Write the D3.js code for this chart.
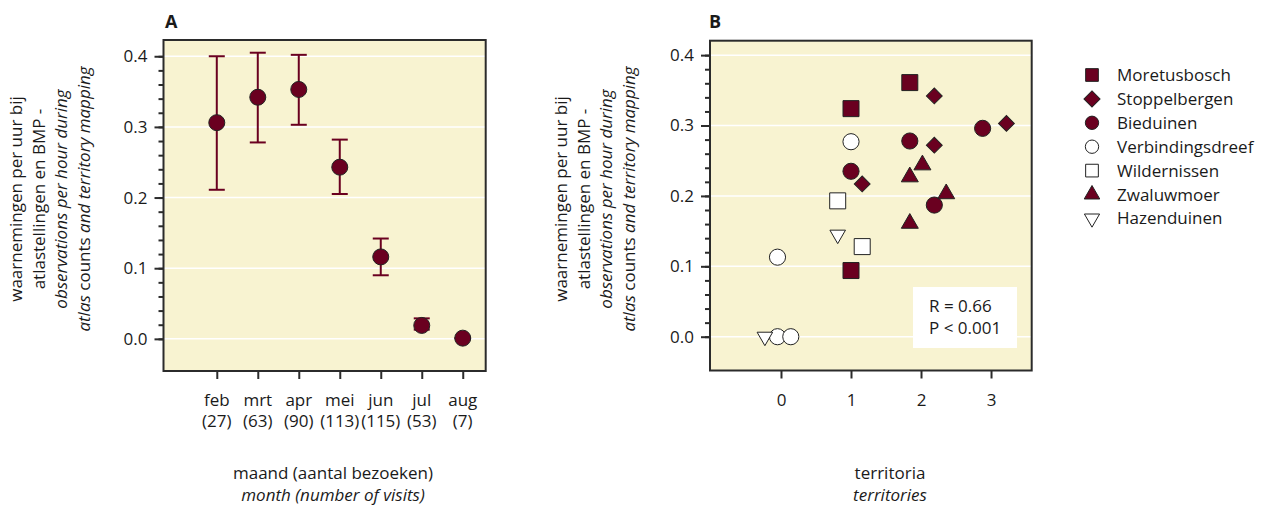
<!DOCTYPE html>
<html>
<head>
<meta charset="utf-8">
<script src="https://cdn.jsdelivr.net/npm/d3@7"></script>
<style>
    body { margin: 0; background: #fff; }
    text { font-family: "Open Sans", sans-serif; font-size: 17px; fill: #1a1a1a; }
    .panel-letter { font-weight: bold; font-size: 18px; }
    .bg { fill: #f8f3d1; }
    .frame { fill: none; stroke: #2b2b2b; stroke-width: 2; }
    .grid line { stroke: #fff; stroke-width: 1.5; }
    .tick line { stroke: #2b2b2b; stroke-width: 2; }
</style>
</head>
<body>
<div id="chart"></div>
<script>
// panel A: month means with error bars
var MONTHS = ['feb', 'mrt', 'apr', 'mei', 'jun', 'jul', 'aug'];
var MONTH_NUM = [2, 3, 4, 5, 6, 7, 8];
var VISITS = [27, 63, 90, 113, 115, 53, 7];
var MONTH_MEAN = [0.306, 0.342, 0.353, 0.243, 0.116, 0.019, 0.001];
var MONTH_LOW = [0.211, 0.278, 0.303, 0.205, 0.090, 0.013, 0.001];
var MONTH_HIGH = [0.400, 0.405, 0.402, 0.282, 0.142, 0.029, 0.001];

// panel B: observations per hour against territories, per site
var SITES = ['Moretusbosch', 'Stoppelbergen', 'Bieduinen', 'Verbindingsdreef', 'Wildernissen', 'Zwaluwmoer', 'Hazenduinen'];
var TERR = [
    [1.0, 1.84, 1.0],
    [2.19, 2.19, 1.16, 3.22],
    [1.0, 1.84, 2.19, 2.88],
    [1.0, -0.05, -0.05, 0.14],
    [0.81, 1.16],
    [1.84, 2.02, 2.36, 1.84],
    [0.81, -0.23]
];
var OBS = [
    [0.324, 0.361, 0.094],
    [0.342, 0.272, 0.217, 0.303],
    [0.235, 0.278, 0.187, 0.296],
    [0.277, 0.113, 0.0, 0.0],
    [0.193, 0.128],
    [0.227, 0.244, 0.203, 0.161],
    [0.145, 0.0]
];
var Y_TICKS = [0.0, 0.1, 0.2, 0.3, 0.4];
var X_TICKS_B = [0, 1, 2, 3];
var STATS = ['R = 0.66', 'P < 0.001'];

var W = 1266, H = 505,
    maroon = '#6a0020';

// marker per site: symbol, filled?, rotation, size in plot, size in legend
var MARKERS = [
    { type: d3.symbolSquare, fill: true, rot: 0, size: 256, leg: 161 },
    { type: d3.symbolSquare, fill: true, rot: 45, size: 125, leg: 130 },
    { type: d3.symbolCircle, fill: true, rot: 0, size: 205, leg: 140 },
    { type: d3.symbolCircle, fill: false, rot: 0, size: 205, leg: 140 },
    { type: d3.symbolSquare, fill: false, rot: 0, size: 256, leg: 161 },
    { type: d3.symbolTriangle, fill: true, rot: 0, size: 125, leg: 105 },
    { type: d3.symbolTriangle, fill: false, rot: 180, size: 105, leg: 100 }
];

var svg = d3.select('#chart').append('svg')
    .attr('width', W)
    .attr('height', H);

var ytitle = [
    [{ t: 'waarnemingen per uur bij', i: false }],
    [{ t: 'atlastellingen en BMP -', i: false }],
    [{ t: 'observations per hour during', i: true }],
    [{ t: 'atlas ', i: true }, { t: 'counts ', i: false }, { t: 'and territory mapping', i: true }]
];

function drawFrame(g, x0, x1, y, yTicks) {
    g.append('rect')
        .attr('class', 'bg')
        .attr('x', x0)
        .attr('y', y.range()[1])
        .attr('width', x1 - x0)
        .attr('height', y.range()[0] - y.range()[1]);

    g.append('g')
        .attr('class', 'grid')
        .selectAll('line')
        .data(yTicks)
        .enter()
        .append('line')
        .attr('x1', x0)
        .attr('x2', x1)
        .attr('y1', function(d) { return y(d); })
        .attr('y2', function(d) { return y(d); });

    // minor ticks every 0.02
    g.append('g')
        .attr('transform', 'translate(' + x0 + ',0)')
        .call(d3.axisLeft(y).tickValues(d3.range(0, 0.42, 0.02)).tickSize(5).tickFormat(''))
        .call(function(a) { a.select('.domain').remove(); });

    g.append('g')
        .attr('transform', 'translate(' + x0 + ',0)')
        .call(d3.axisLeft(y).tickValues(yTicks).tickSize(9).tickPadding(7).tickFormat(d3.format('.1f')))
        .call(function(a) {
            a.select('.domain').remove();
            a.selectAll('text').style('font-size', '17px').attr('fill', '#1a1a1a');
        });
}

function drawYTitle(g, cx, cy) {
    var t = g.append('text')
        .attr('transform', 'translate(' + cx + ',' + cy + ') rotate(-90)')
        .attr('text-anchor', 'middle');
    ytitle.forEach(function(line, li) {
        line.forEach(function(part, pi) {
            var ts = t.append('tspan')
                .text(part.t)
                .style('font-style', part.i ? 'italic' : 'normal');
            if (pi === 0) {
                ts.attr('x', 0).attr('y', li * 22.6);
            }
        });
    });
}

function drawPanelA() {
    var x = d3.scaleLinear().domain([0.7, 8.56]).range([163.5, 485.7]),
        y = d3.scaleLinear().domain([-0.0455, 0.423]).range([371, 40]);
    var g = svg.append('g');

    drawFrame(g, 163.5, 485.7, y, Y_TICKS);

    var xa = g.append('g')
        .attr('transform', 'translate(0,' + 371 + ')')
        .call(d3.axisBottom(x).tickValues(MONTH_NUM).tickSize(8).tickFormat(''));
    xa.select('.domain').remove();

    var lab = g.selectAll('.mlab')
        .data(MONTHS)
        .enter()
        .append('text')
        .attr('class', 'mlab')
        .attr('text-anchor', 'middle');
    lab.append('tspan')
        .attr('x', function(d, i) { return x(MONTH_NUM[i]); })
        .attr('y', 406)
        .text(function(d) { return d; });
    lab.append('tspan')
        .attr('x', function(d, i) { return x(MONTH_NUM[i]); })
        .attr('y', 427)
        .text(function(d, i) { return '(' + VISITS[i] + ')'; });

    // error bars
    var bars = g.selectAll('.err')
        .data(MONTHS)
        .enter()
        .append('g')
        .attr('class', 'err')
        .attr('stroke', maroon)
        .attr('stroke-width', 2);
    bars.append('line')
        .attr('x1', function(d, i) { return x(MONTH_NUM[i]); })
        .attr('x2', function(d, i) { return x(MONTH_NUM[i]); })
        .attr('y1', function(d, i) { return y(MONTH_LOW[i]); })
        .attr('y2', function(d, i) { return y(MONTH_HIGH[i]); });
    [MONTH_LOW, MONTH_HIGH].forEach(function(arr) {
        bars.append('line')
            .attr('x1', function(d, i) { return x(MONTH_NUM[i]) - 8; })
            .attr('x2', function(d, i) { return x(MONTH_NUM[i]) + 8; })
            .attr('y1', function(d, i) { return y(arr[i]); })
            .attr('y2', function(d, i) { return y(arr[i]); });
    });

    g.selectAll('.pt')
        .data(MONTH_MEAN)
        .enter()
        .append('circle')
        .attr('class', 'pt')
        .attr('cx', function(d, i) { return x(MONTH_NUM[i]); })
        .attr('cy', function(d) { return y(d); })
        .attr('r', 8)
        .attr('fill', maroon)
        .attr('stroke', '#222')
        .attr('stroke-width', 1);

    g.append('rect')
        .attr('class', 'frame')
        .attr('x', 163.5)
        .attr('y', 40)
        .attr('width', 485.7 - 163.5)
        .attr('height', 331);

    drawYTitle(g, 22, 199);

    g.append('text')
        .attr('class', 'panel-letter')
        .attr('x', 165)
        .attr('y', 28)
        .text('A');

    var t = g.append('text').attr('text-anchor', 'middle');
    t.append('tspan').attr('x', 333).attr('y', 479).text('maand (aantal bezoeken)');
    t.append('tspan').attr('x', 333).attr('y', 501).style('font-style', 'italic').text('month (number of visits)');
}

function symbolPath(m, size) {
    return d3.symbol().type(m.type).size(size)();
}

function drawPanelB() {
    var x = d3.scaleLinear().domain([-1.014, 3.581]).range([710, 1031.7]),
        y = d3.scaleLinear().domain([-0.048, 0.4205]).range([370.5, 40.7]);
    var g = svg.append('g');

    drawFrame(g, 710, 1031.7, y, Y_TICKS);

    var xa = g.append('g')
        .attr('transform', 'translate(0,' + 370.5 + ')')
        .call(d3.axisBottom(x).tickValues(X_TICKS_B).tickSize(8).tickPadding(15).tickFormat(d3.format('d')));
    xa.select('.domain').remove();
    xa.selectAll('text').style('font-size', '17px').attr('fill', '#1a1a1a');

    SITES.forEach(function(site, s) {
        var m = MARKERS[s];
        g.selectAll('.site' + s)
            .data(OBS[s])
            .enter()
            .append('path')
            .attr('class', 'site' + s)
            .attr('d', symbolPath(m, m.size))
            .attr('transform', function(d, i) {
                return 'translate(' + x(TERR[s][i]) + ',' + y(d) + ') rotate(' + m.rot + ')';
            })
            .attr('fill', m.fill ? maroon : '#fff')
            .attr('stroke', '#222')
            .attr('stroke-width', 1);
    });

    // stats box
    g.append('rect')
        .attr('x', 913)
        .attr('y', 287)
        .attr('width', 104)
        .attr('height', 61)
        .attr('fill', '#fff');
    g.selectAll('.stat')
        .data(STATS)
        .enter()
        .append('text')
        .attr('class', 'stat')
        .attr('x', 929)
        .attr('y', function(d, i) { return 312 + i * 22; })
        .text(function(d) { return d; });

    g.append('rect')
        .attr('class', 'frame')
        .attr('x', 710)
        .attr('y', 40.7)
        .attr('width', 1031.7 - 710)
        .attr('height', 370.5 - 40.7);

    drawYTitle(g, 567, 199);

    g.append('text')
        .attr('class', 'panel-letter')
        .attr('x', 709)
        .attr('y', 28)
        .text('B');

    var t = g.append('text').attr('text-anchor', 'middle');
    t.append('tspan').attr('x', 890).attr('y', 479).text('territoria');
    t.append('tspan').attr('x', 890).attr('y', 501).style('font-style', 'italic').text('territories');

    // legend
    var leg = g.selectAll('.leg')
        .data(SITES)
        .enter()
        .append('g')
        .attr('class', 'leg')
        .attr('transform', function(d, i) { return 'translate(1092,' + (75 + i * 23.9) + ')'; });
    leg.append('path')
        .attr('d', function(d, i) { return symbolPath(MARKERS[i], MARKERS[i].leg); })
        .attr('transform', function(d, i) { return 'rotate(' + MARKERS[i].rot + ')'; })
        .attr('fill', function(d, i) { return MARKERS[i].fill ? maroon : '#fff'; })
        .attr('stroke', '#222')
        .attr('stroke-width', 1);
    leg.append('text')
        .attr('x', 25)
        .attr('y', 6)
        .text(function(d) { return d; });
}

drawPanelA();
drawPanelB();
</script>
</body>
</html>
